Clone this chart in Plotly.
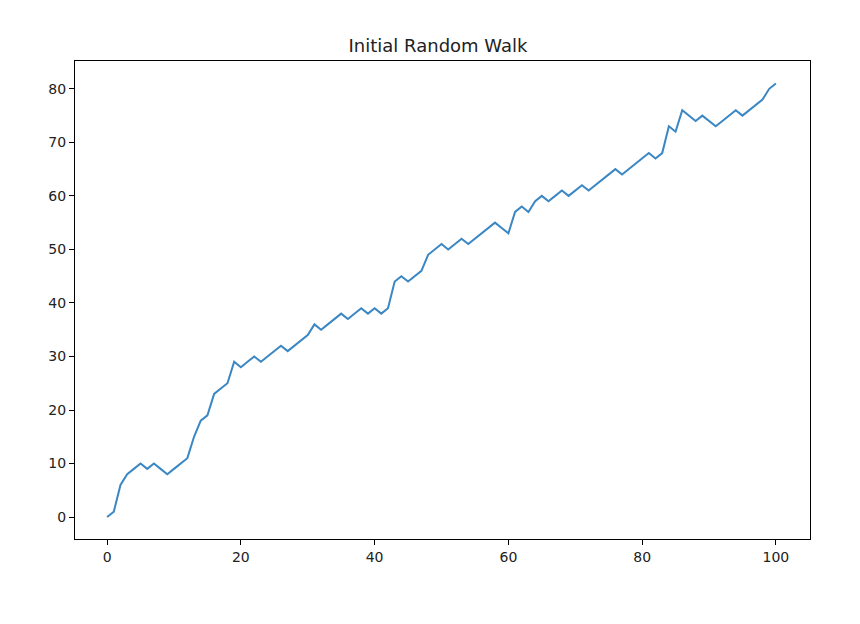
import plotly.graph_objects as go

steps = list(range(101))
values = [0,1,6,8,9,10,9,10,9,8,9,10,11,15,18,19,23,24,25,29,28,29,30,29,30,31,32,31,32,33,34,36,35,36,37,38,37,38,39,38,39,38,39,44,45,44,45,46,49,50,51,50,51,52,51,52,53,54,55,54,53,57,58,57,59,60,59,60,61,60,61,62,61,62,63,64,65,64,65,66,67,68,67,68,73,72,76,75,74,75,74,73,74,75,76,75,76,77,78,80,81]

fig = go.Figure(go.Scatter(x=steps, y=values, mode="lines", line=dict(color="#3a87c4", width=2)))
ax = dict(showgrid=False, zeroline=False, showline=True, mirror=True, linecolor="black", linewidth=1,
          ticks="outside", ticklen=5, tickcolor="black", tickfont=dict(family="DejaVu Sans", size=14, color="#222"))
fig.update_layout(
    width=860, height=624, plot_bgcolor="white", paper_bgcolor="white", showlegend=False,
    margin=dict(l=67, r=58, t=53, b=93),
    title=dict(text="Initial Random Walk", x=0.5, xanchor="center", y=0.939, yanchor="middle",
               font=dict(family="DejaVu Sans", size=18, color="#222")),
    xaxis=dict(ax, range=[-4.8, 105.1], tickvals=[0,20,40,60,80,100]),
    yaxis=dict(ax, range=[-4.1, 85.2], tickvals=[0,10,20,30,40,50,60,70,80]),
)
fig.write_html("out.html")
